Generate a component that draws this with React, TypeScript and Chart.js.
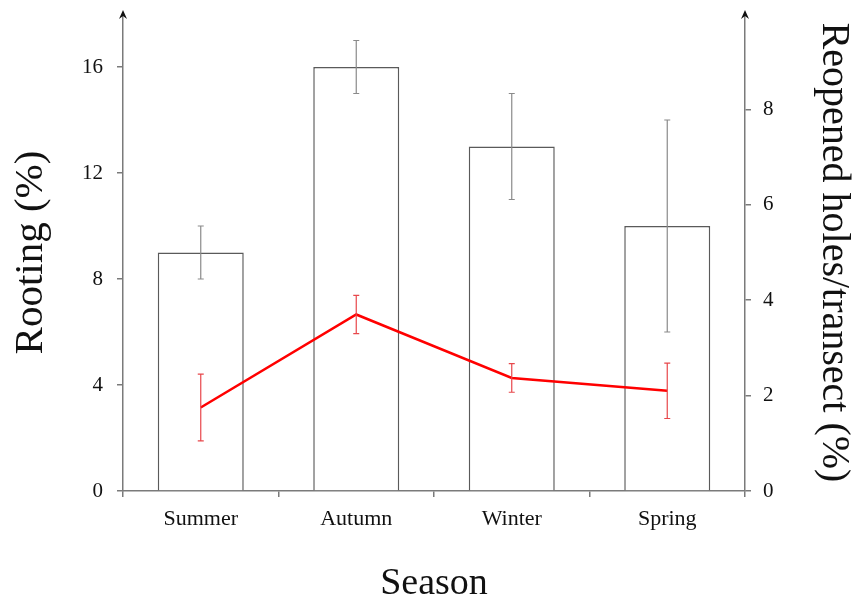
import React, { useEffect, useRef } from 'react';
import { Chart, registerables } from 'chart.js';

Chart.register(...registerables);

const seasons = ['Summer', 'Autumn', 'Winter', 'Spring'];
const rooting = [9, 16, 13, 10];
const rootingErr = [1, 1, 2, 4];
const reopened = [1.75, 3.7, 2.37, 2.1];
const reopenedErr = [0.7, 0.4, 0.3, 0.58];
const leftTicksMax = 16;
const rightTicksMax = 8;

const SERIF = "'Liberation Serif', 'Times New Roman', serif";
const AXIS_GRAY = '#7a7a7a';

const errorBarsPlugin = {
  id: 'errorBars',
  afterDatasetsDraw(chart: any) {
    const ctx = chart.ctx;
    chart.data.datasets.forEach((ds: any, di: number) => {
      const errs = ds.errors;
      if (!errs) return;
      const meta = chart.getDatasetMeta(di);
      const scale = chart.scales[meta.yAxisID];
      ctx.save();
      ctx.strokeStyle = ds.errorColor;
      ctx.lineWidth = 1.2;
      meta.data.forEach((el: any, i: number) => {
        const x = el.x;
        const v = ds.data[i];
        const yTop = scale.getPixelForValue(v + errs[i]);
        const yBot = scale.getPixelForValue(v - errs[i]);
        ctx.beginPath();
        ctx.moveTo(x, yTop);
        ctx.lineTo(x, yBot);
        ctx.moveTo(x - 3, yTop);
        ctx.lineTo(x + 3, yTop);
        ctx.moveTo(x - 3, yBot);
        ctx.lineTo(x + 3, yBot);
        ctx.stroke();
      });
      ctx.restore();
    });
  },
};

const arrowsPlugin = {
  id: 'axisArrows',
  afterDraw(chart: any) {
    const { ctx, chartArea } = chart;
    const xs = [chartArea.left, chartArea.right];
    ctx.save();
    ctx.fillStyle = '#111';
    xs.forEach((x) => {
      const tip = chartArea.top - 4;
      ctx.beginPath();
      ctx.moveTo(x, tip);
      ctx.lineTo(x - 4, tip + 9);
      ctx.lineTo(x, tip + 6);
      ctx.lineTo(x + 4, tip + 9);
      ctx.closePath();
      ctx.fill();
    });
    ctx.restore();
  },
};

export default function App() {
  const ref = useRef<HTMLCanvasElement | null>(null);

  useEffect(() => {
    document.body.style.margin = '0';
    const canvas = ref.current;
    if (!canvas) return;
    const chart = new Chart(canvas, {
      type: 'bar',
      data: {
        labels: seasons,
        datasets: [
          {
            type: 'line',
            label: 'Reopened holes/transect (%)',
            data: reopened,
            yAxisID: 'y1',
            borderColor: '#ff0000',
            borderWidth: 2.5,
            pointRadius: 0,
            tension: 0,
            fill: false,
            order: 0,
            errors: reopenedErr,
            errorColor: '#e8474b',
          } as any,
          {
            type: 'bar',
            label: 'Rooting (%)',
            data: rooting,
            yAxisID: 'y',
            backgroundColor: '#ffffff',
            borderColor: '#5a5a5a',
            borderWidth: 1.5,
            barPercentage: 0.553,
            categoryPercentage: 1,
            order: 1,
            errors: rootingErr,
            errorColor: '#8a8a8a',
          } as any,
        ],
      },
      options: {
        animation: false,
        responsive: false,
        maintainAspectRatio: false,
        layout: { padding: { top: 14, left: 0, right: 0, bottom: 0 } },
        plugins: {
          legend: { display: false },
          tooltip: { enabled: false },
        },
        scales: {
          x: {
            type: 'category',
            offset: true,
            grid: {
              offset: true,
              drawOnChartArea: false,
              drawTicks: true,
              tickLength: 6,
              color: AXIS_GRAY,
              lineWidth: 1.5,
            },
            border: { display: true, color: AXIS_GRAY, width: 1.5 },
            ticks: {
              color: '#111',
              padding: 9,
              font: { family: SERIF, size: 22 },
            },
            title: {
              display: true,
              text: 'Season',
              color: '#111',
              font: { family: SERIF, size: 38, lineHeight: 1 },
              padding: { top: 0, bottom: -5 },
            },
            afterFit(scale: any) {
              scale.height = 107;
              scale.paddingLeft = 0;
              scale.paddingRight = 0;
            },
          },
          y: {
            type: 'linear',
            position: 'left',
            min: 0,
            max: 18,
            grid: {
              drawOnChartArea: false,
              drawTicks: true,
              tickLength: 6,
              color: AXIS_GRAY,
              lineWidth: 1.5,
            },
            border: { display: true, color: AXIS_GRAY, width: 1.5 },
            ticks: {
              stepSize: 4,
              color: '#111',
              padding: 14,
              font: { family: SERIF, size: 21 },
            },
            afterBuildTicks(scale: any) {
              scale.ticks = scale.ticks.filter((t: any) => t.value <= leftTicksMax);
            },
            title: {
              display: true,
              text: 'Rooting (%)',
              color: '#111',
              font: { family: SERIF, size: 41, lineHeight: 1 },
              padding: { top: 11, bottom: 0 },
            },
            afterFit(scale: any) {
              scale.width = 123;
              scale.paddingTop = 0;
              scale.paddingBottom = 0;
            },
          },
          y1: {
            type: 'linear',
            position: 'right',
            min: 0,
            max: 10,
            grid: {
              drawOnChartArea: false,
              drawTicks: true,
              tickLength: 6,
              color: AXIS_GRAY,
              lineWidth: 1.5,
            },
            border: { display: true, color: AXIS_GRAY, width: 1.5 },
            ticks: {
              stepSize: 2,
              color: '#111',
              padding: 12,
              font: { family: SERIF, size: 21 },
            },
            afterBuildTicks(scale: any) {
              scale.ticks = scale.ticks.filter((t: any) => t.value <= rightTicksMax);
            },
            title: {
              display: true,
              text: 'Reopened holes/transect (%)',
              color: '#111',
              font: { family: SERIF, size: 40, lineHeight: 1 },
              padding: { top: 8, bottom: 0 },
            },
            afterFit(scale: any) {
              scale.width = 116;
              scale.paddingTop = 0;
              scale.paddingBottom = 0;
            },
          },
        },
      } as any,
      plugins: [errorBarsPlugin, arrowsPlugin],
    });
    return () => chart.destroy();
  }, []);

  return (
    <div style={{ position: 'relative', width: 861, height: 598, background: '#fff' }}>
      <canvas ref={ref} width={861} height={598} style={{ display: 'block', width: 861, height: 598 }} />
    </div>
  );
}
